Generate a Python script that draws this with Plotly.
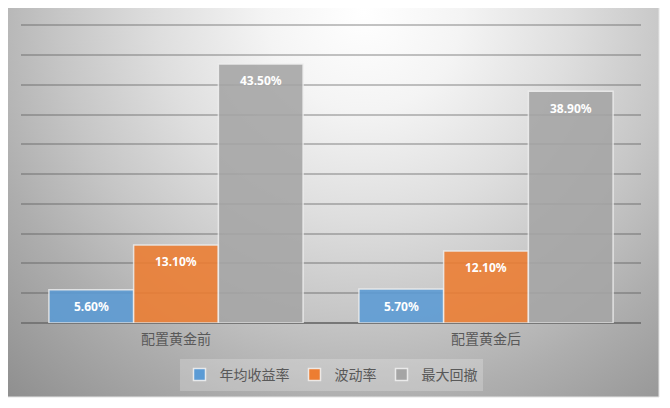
import plotly.graph_objects as go

# data
categories = ["配置黄金前", "配置黄金后"]
series_names = ["年均收益率", "波动率", "最大回撤"]
annual_return = [5.6, 5.7]
volatility = [13.1, 12.1]
max_drawdown = [43.5, 38.9]
series_colors = ["#5b9bd5", "#ed7d31", "#a5a5a5"]

# the page body has an 8px margin, so the figure is drawn 8px in
OFF = 8
W, H = 670 - OFF, 408 - OFF
# plot area in (screen) pixels
PL, PR, PT, PB = 21, 641, 24, 323
# chart box (gradient) in pixels
BL, BR, BT, BB = 4, 659, 7, 397
BARGAP = 0.18

CJK = "Noto Sans CJK SC, Microsoft YaHei, sans-serif"


def px_to_paper_x(px):
    return (px - PL) / (PR - PL)


def px_to_paper_y(py):
    return (PB - py) / (PB - PT)


# radial gradient background as svg data uri
bw, bh = BR - BL, BB - BT
svg = (
    f"<svg xmlns='http://www.w3.org/2000/svg' width='{bw}' height='{bh}'>"
    "<defs><radialGradient id='g' gradientUnits='userSpaceOnUse' cx='360' cy='5' r='545'>"
    "<stop offset='0' stop-color='#ffffff'/>"
    "<stop offset='0.18' stop-color='#f4f4f4'/>"
    "<stop offset='0.38' stop-color='#dedede'/>"
    "<stop offset='0.56' stop-color='#c6c6c6'/>"
    "<stop offset='0.72' stop-color='#aeaeae'/>"
    "<stop offset='1' stop-color='#8a8a8a'/>"
    "</radialGradient></defs>"
    f"<rect x='0' y='0' width='{bw}' height='{bh}' fill='url(#g)'/></svg>"
)
svg_uri = "data:image/svg+xml;utf8," + svg.replace("#", "%23").replace("<", "%3C").replace(">", "%3E")

all_series = [annual_return, volatility, max_drawdown]
fig = go.Figure()
for name, vals, color in zip(series_names, all_series, series_colors):
    fig.add_trace(go.Bar(
        x=categories,
        y=vals,
        name=name,
        marker=dict(color=color, opacity=0.88, line=dict(color="rgba(240,240,240,0.9)", width=1.5)),
    ))

# value labels sit a little below the top of each bar, like Excel's "inside end"
n = len(all_series)
for si, vals in enumerate(all_series):
    offset = (si - (n - 1) / 2) * (1 - BARGAP) / n
    for ci, v in enumerate(vals):
        fig.add_annotation(
            x=ci + offset, y=v, xref="x", yref="y",
            text=f"{v:.2f}%",
            showarrow=False,
            yshift=-17,
            font=dict(color="white", size=12, family="Noto Sans, sans-serif", weight="bold"),
        )

fig.add_layout_image(dict(
    source=svg_uri,
    xref="paper", yref="paper",
    x=px_to_paper_x(BL), y=px_to_paper_y(BT),
    sizex=px_to_paper_x(BR) - px_to_paper_x(BL),
    sizey=px_to_paper_y(BT) - px_to_paper_y(BB),
    xanchor="left", yanchor="top",
    sizing="stretch",
    layer="below",
))

fig.add_shape(
    type="rect", xref="paper", yref="paper",
    x0=px_to_paper_x(BL), x1=px_to_paper_x(BR),
    y0=px_to_paper_y(BB), y1=px_to_paper_y(BT),
    line=dict(color="#e4e4e4", width=1), layer="below",
)

fig.update_layout(
    width=W, height=H,
    margin=dict(l=PL - OFF, r=W - (PR - OFF), t=PT - OFF, b=H - (PB - OFF)),
    paper_bgcolor="white",
    plot_bgcolor="rgba(0,0,0,0)",
    barmode="group",
    bargap=BARGAP,
    bargroupgap=0,
    font=dict(family=CJK, color="#595959", size=14),
    showlegend=True,
    legend=dict(
        orientation="h",
        x=0.5, xanchor="center",
        y=px_to_paper_y(375), yanchor="middle",
        bgcolor="rgba(255,255,255,0.22)",
        font=dict(family=CJK, size=14, color="#595959"),
        itemwidth=30,
        tracegroupgap=0,
    ),
    xaxis=dict(
        showgrid=False,
        showline=False,
        ticks="",
        ticklabelstandoff=6,
        tickfont=dict(family=CJK, size=14, color="#595959"),
    ),
    yaxis=dict(
        range=[0, 50.2],
        dtick=5,
        showticklabels=False,
        showgrid=True,
        gridcolor="rgba(70,70,70,0.32)",
        gridwidth=1.5,
        zeroline=True,
        zerolinecolor="#777777",
        zerolinewidth=1.5,
        showline=False,
        ticks="",
    ),
)

fig.write_html("out.html")
